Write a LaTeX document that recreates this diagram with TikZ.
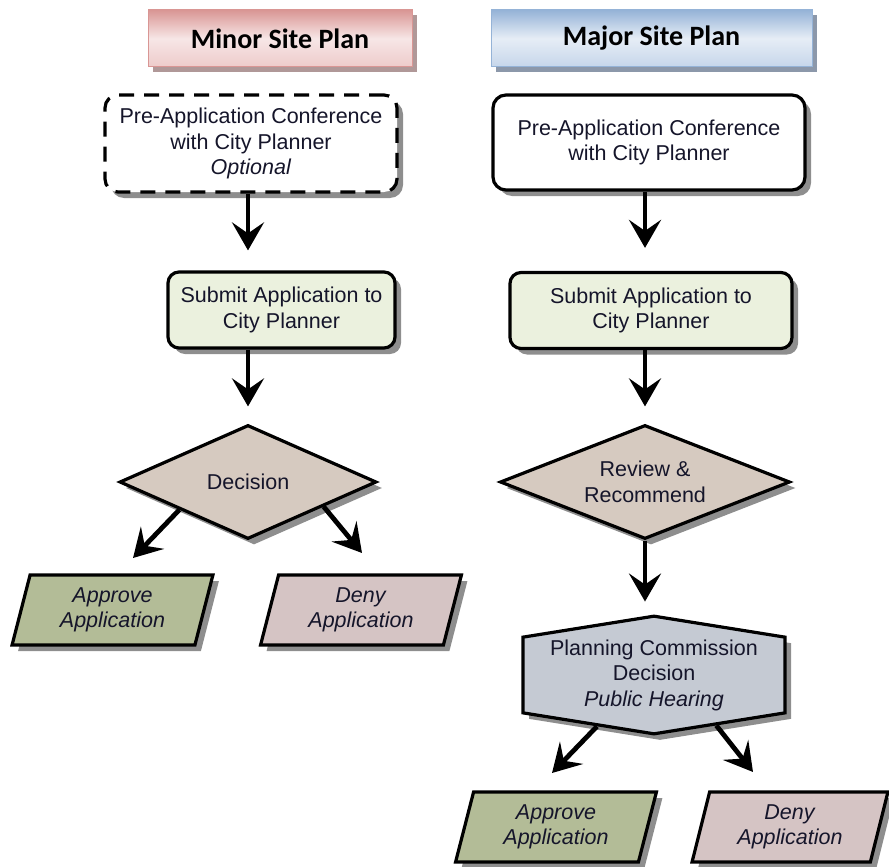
\documentclass[tikz,border=0pt]{standalone}
\usepackage{fontspec}
\setmainfont{Liberation Sans}
\newfontfamily\hdrfont{Carlito}
\usetikzlibrary{shapes.geometric,shapes.symbols,shadows,arrows.meta}
\definecolor{shadowgray}{HTML}{8E8E8E}
\definecolor{subfill}{HTML}{EBF1DE}
\definecolor{decfill}{HTML}{D6CAC0}
\definecolor{hexfill}{HTML}{C5CAD3}
\definecolor{apprfill}{HTML}{B3BC97}
\definecolor{denyfill}{HTML}{D5C4C4}
\definecolor{pinkdark}{HTML}{D99694}
\definecolor{pinklight}{HTML}{F7E6E6}
\definecolor{pinkmid}{HTML}{EDCBCA}
\definecolor{pinkshadow}{HTML}{B09898}
\definecolor{bluedark}{HTML}{95B3D7}
\definecolor{bluelight}{HTML}{E6EDF6}
\definecolor{bluemid}{HTML}{C6D6EA}
\definecolor{blueshadow}{HTML}{8C98AA}
\definecolor{txt}{HTML}{15152A}
\begin{document}
\begin{tikzpicture}[x=1pt,y=1pt,
  shd/.style={drop shadow={shadow xshift=6pt, shadow yshift=-6pt, fill=shadowgray, opacity=1}},
  base/.style={draw=black, line width=3.2pt, align=center, inner sep=0pt, text=txt,
     font=\fontsize{21.5}{25.5}\selectfont, shd},
  box/.style={base, rectangle, rounded corners=13pt},
  dec/.style={base, diamond, aspect=2.5, fill=decfill},
  para/.style={base, trapezium, trapezium left angle=75.6, trapezium right angle=104.4,
     trapezium stretches=true, minimum width=201pt, minimum height=70pt},
  hdr/.style={rectangle, inner sep=0pt, minimum width=264pt, minimum height=57pt,
     font=\hdrfont\bfseries\fontsize{28}{32}\selectfont, text=black, line width=1pt},
  arr/.style={line width=4.8pt, -{Stealth[length=28pt,width=32pt,inset=11pt]}}
]
\useasboundingbox (0,0) rectangle (889,-867);

% headers
\node[hdr, draw=pinkdark, top color=pinkdark, bottom color=pinkmid, middle color=pinklight,
  drop shadow={shadow xshift=5pt, shadow yshift=-5pt, fill=pinkshadow, opacity=1}]
  (minor) at (280,-38.5) {Minor Site Plan};
\node[hdr, minimum width=321pt, draw=bluedark, top color=bluedark, bottom color=bluemid, middle color=bluelight,
  drop shadow={shadow xshift=5pt, shadow yshift=-5pt, fill=blueshadow, opacity=1}]
  (major) at (651.5,-38.5) {Major Site Plan};

% left column
\node[box, fill=white, dash pattern=on 15pt off 10pt, minimum width=292pt, minimum height=97pt]
  (preL) at (251,-143.5) {Pre-Application Conference\\with City Planner\\\textit{Optional}};
\node[box, fill=subfill, rounded corners=11pt, minimum width=227pt, minimum height=76pt]
  (subL) at (281.5,-310) {Submit Application to\\City Planner};
\node[dec, minimum width=257pt, minimum height=114pt] (decL) at (248,-482) {Decision};
\node[para, fill=apprfill] (apprL) at (112.5,-610) {\textit{Approve}\\\textit{Application}};
\node[para, fill=denyfill] (denyL) at (361,-610) {\textit{Deny}\\\textit{Application}};

% right column
\node[box, fill=white, minimum width=312pt, minimum height=95pt]
  (preR) at (649,-142.5) {Pre-Application Conference\\with City Planner};
\node[box, fill=subfill, rounded corners=11pt, minimum width=282pt, minimum height=76pt]
  (subR) at (651,-310.5) {Submit Application to\\City Planner};
\node[dec, minimum width=290pt, minimum height=114pt] (decR) at (645,-482) {Review \&\\Recommend};
\node[base, signal, signal to=north and south, signal pointer angle=161.8, fill=hexfill,
  minimum width=262pt, minimum height=109pt]
  (hex) at (654,-675) {Planning Commission\\Decision\\\textit{Public Hearing}};
\node[para, fill=apprfill] (apprR) at (556,-827) {\textit{Approve}\\\textit{Application}};
\node[para, fill=denyfill, minimum width=196pt] (denyR) at (790,-827) {\textit{Deny}\\\textit{Application}};

% arrow end points
\coordinate (tL1) at (133,-558);
\coordinate (tL2) at (362,-553);
\coordinate (tR1) at (552,-773);
\coordinate (tR2) at (753,-772);

% connectors
\draw[arr, shorten >=20pt] (preL.south -| decL.north) -- (subL.north -| decL.north);
\draw[arr, shorten >=17pt] (subL.south -| decL.north) -- (decL.north);
\draw[arr] (decL.-158.5) -- (tL1);
\draw[arr] (decL.-18.7) -- (tL2);

\draw[arr, shorten >=23pt] (preR.south -| decR.north) -- (subR.north -| decR.north);
\draw[arr, shorten >=17pt] (subR.south -| decR.north) -- (decR.north);
\draw[arr, shorten >=13pt] (decR.south) -- (hex.north -| decR.south);
\draw[arr] (hex.-138) -- (tR1);
\draw[arr] (hex.-39.6) -- (tR2);
\end{tikzpicture}
\end{document}
